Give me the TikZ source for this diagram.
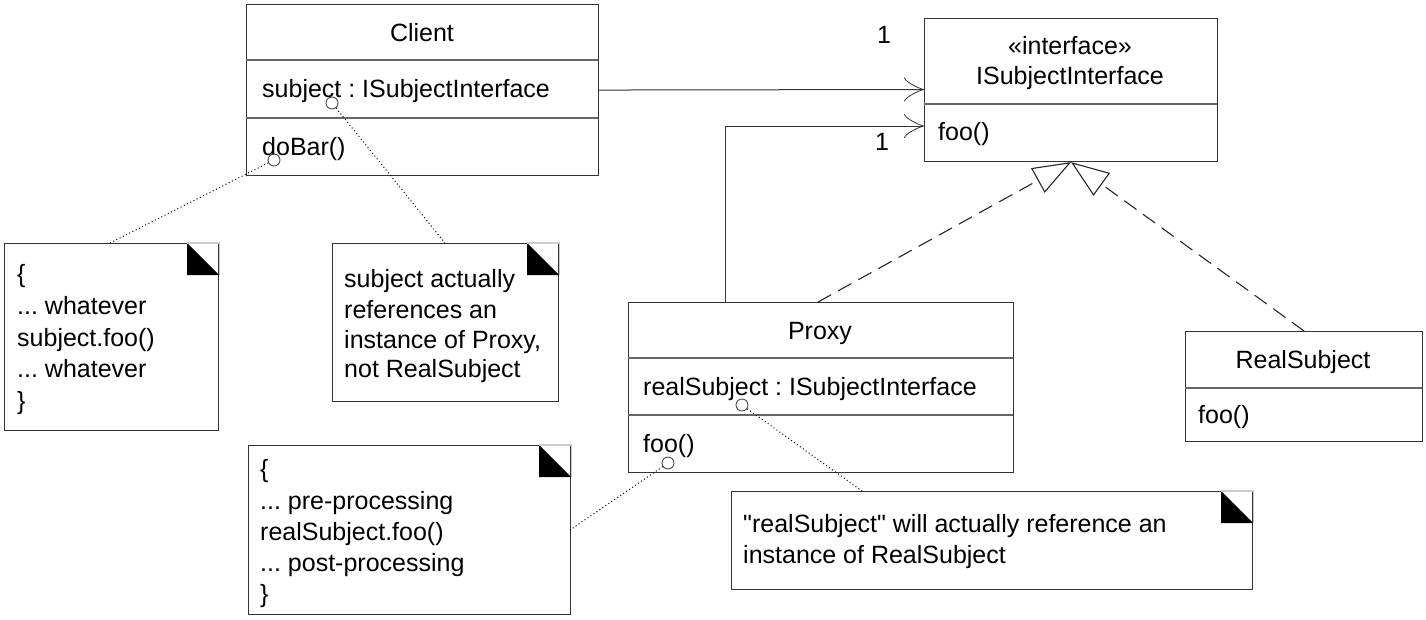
\documentclass[tikz,border=0pt]{standalone}
\usepackage{fontspec}
\setmainfont{Liberation Sans}[Ligatures=TeXOff]
\usetikzlibrary{arrows.meta}
\frenchspacing
\begin{document}
\begin{tikzpicture}[x=1pt,y=-1pt,
  box/.style={draw=black!80, line width=1.1pt, inner sep=0pt, anchor=north west},
  sep/.style={draw=black!60, line width=1.1pt},
  txt/.style={inner sep=0pt, anchor=base west, font=\fontsize{25}{30}\selectfont},
  ctxt/.style={inner sep=0pt, anchor=base, font=\fontsize{25}{30}\selectfont},
  notebox/.style={draw=black!80, line width=1.1pt, inner sep=0pt, anchor=north west},
  dotline/.style={draw=black, line width=1pt, dash pattern=on 1pt off 2.6pt},
  pin/.style={circle, draw=black!70, line width=0.9pt, minimum size=12pt, inner sep=0pt},
  assoc/.style={draw=black!80, line width=1pt, -{Classical TikZ Rightarrow[length=20pt,width=24pt]}},
  realize/.style={draw=black!85, line width=1.1pt, dash pattern=on 15pt off 8pt, -{Triangle[open,length=38pt,width=28pt,fill=white]}}
]
\useasboundingbox (0,0) rectangle (1426,619);

% Client
\node[box, minimum width=352pt, minimum height=171pt] (client) at (246,4) {};
\draw[sep] (246,60) -- (598,60);
\draw[sep] (246,118) -- (598,118);
\node[ctxt] (clientname) at (422,41) {Client};
\node[txt] (clientattr) at (262,97) {subject : ISubjectInterface};
\node[txt] (clientop) at (262,155) {doBar()};

% Interface
\node[box, minimum width=293pt, minimum height=143pt] (iface) at (924,18) {};
\draw[sep] (924,104) -- (1217,104);
\node[ctxt] (stereo) at (1070,54) {«interface»};
\node[ctxt] (ifacename) at (1070,84) {ISubjectInterface};
\node[txt] (ifaceop) at (938,140) {foo()};

% Proxy
\node[box, minimum width=385pt, minimum height=170pt] (proxy) at (628,302) {};
\draw[sep] (628,358) -- (1013,358);
\draw[sep] (628,415) -- (1013,415);
\node[ctxt] (proxyname) at (820,339) {Proxy};
\node[txt] (proxyattr) at (643,395) {realSubject : ISubjectInterface};
\node[txt] (proxyop) at (643,452) {foo()};

% RealSubject
\node[box, minimum width=237pt, minimum height=110pt] (rs) at (1185,331) {};
\draw[sep] (1185,388) -- (1422,388);
\node[ctxt] (rsname) at (1303,368) {RealSubject};
\node[txt] (rsop) at (1198,423) {foo()};

% multiplicities
\node[ctxt] (m1) at (884,43) {1};
\node[ctxt] (m2) at (882,150) {1};

% associations
\coordinate (ia1) at (924,89.5);
\coordinate (pxa) at (725.5,302);
\coordinate (ia2) at (924,126);
\draw[assoc] (client.east) -- (ia1);
\draw[assoc] (pxa) |- (ia2);

% realizations
\coordinate (px1) at (818,302);
\draw[realize] (px1) -- (iface.south);
\draw[realize] (rs.north) -- (iface.south);

% notes
\newcommand\notefold[1]{%
  \fill[black] (#1.north east) ++(-32,0) -- ++(0,32) -- ++(32,0) -- cycle;
  \draw[black!20, line width=1.1pt] (#1.north east) ++(-32,0) -- ++(32,0) -- ++(0,32);
}
\node[notebox, minimum width=214pt, minimum height=187pt] (n1) at (4,243) {};
\notefold{n1}
\node[txt] (n1a) at (17,282) {\{};
\node[txt] (n1b) at (17,314) {... whatever};
\node[txt] (n1c) at (17,346) {subject.foo()};
\node[txt] (n1d) at (17,377) {... whatever};
\node[txt] (n1e) at (17,409) {\}};

\node[notebox, minimum width=226pt, minimum height=158pt] (n2) at (332,243) {};
\notefold{n2}
\node[txt] (n2a) at (344,287) {subject actually};
\node[txt] (n2b) at (344,318) {references an};
\node[txt] (n2c) at (344,348) {instance of Proxy,};
\node[txt] (n2d) at (344,377) {not RealSubject};

\node[notebox, minimum width=322pt, minimum height=169pt] (n3) at (248,445) {};
\notefold{n3}
\node[txt] (n3a) at (260,477) {\{};
\node[txt] (n3b) at (260,509) {... pre-processing};
\node[txt] (n3c) at (260,540) {realSubject.foo()};
\node[txt] (n3d) at (260,571) {... post-processing};
\node[txt] (n3e) at (260,602) {\}};

\node[notebox, minimum width=521pt, minimum height=98pt] (n4) at (731,491) {};
\notefold{n4}
\node[txt] (n4a) at (743,532) {"realSubject" will actually reference an};
\node[txt] (n4b) at (743,563) {instance of RealSubject};

% pins and anchors
\node[pin] (p1) at (274,160) {};
\node[pin] (p2) at (332,103) {};
\node[pin] (p3) at (668,463) {};
\node[pin] (p4) at (742,405) {};
\coordinate (e1) at (110,243);
\coordinate (e2) at (445,243);
\coordinate (e3) at (570,530);
\coordinate (e4) at (862,491);
\draw[dotline] (p1) -- (e1);
\draw[dotline] (p2) -- (e2);
\draw[dotline] (p3) -- (e3);
\draw[dotline] (p4) -- (e4);
\end{tikzpicture}
\end{document}
